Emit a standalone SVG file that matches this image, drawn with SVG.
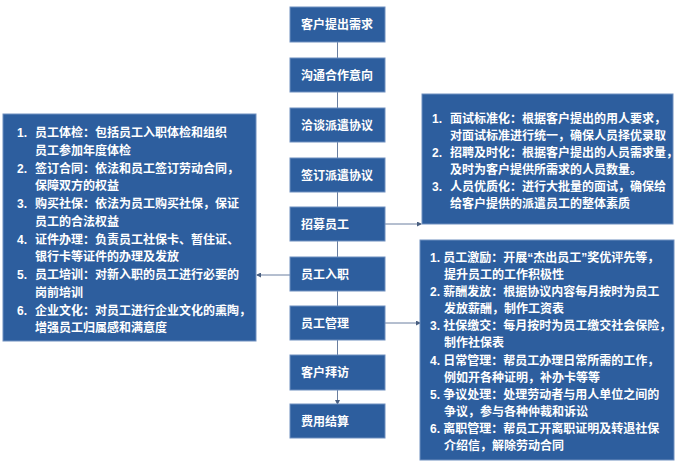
<svg xmlns="http://www.w3.org/2000/svg" width="677" height="474" viewBox="0 0 677 474">
<defs>
<style>
.b{fill:#2d5e9e;stroke:#6f8fbf;stroke-width:1}
.t{fill:#fff;font-family:"Liberation Sans","Noto Sans CJK SC",sans-serif;font-weight:bold;font-size:12px}
.c{stroke:#6a7fa0;stroke-width:1;fill:none;marker-end:url(#a)}
</style>
<marker id="a" markerWidth="5" markerHeight="5" refX="4" refY="2.5" orient="auto"><path d="M0,0L5,2.5L0,5z" fill="#4a5f80"/></marker>
</defs>
<rect width="677" height="474" fill="#fff"/>
<g id="connectors">
<path class="c" d="M337.5,42V58M337.5,92V108M337.5,142V158M337.5,192V207M337.5,241V257M337.5,291V306M337.5,340V355M337.5,390V404"/>
<path class="c" d="M385,224H421"/>
<path class="c" d="M290,275H257"/>
<path class="c" d="M385,323H420"/>
</g>
<g id="n1"><rect class="b" x="290" y="7" width="95" height="35"/><text class="t" x="301" y="29">客户提出需求</text></g>
<g id="n2"><rect class="b" x="290" y="58" width="95" height="34"/><text class="t" x="301" y="80">沟通合作意向</text></g>
<g id="n3"><rect class="b" x="290" y="108" width="95" height="34"/><text class="t" x="301" y="130">洽谈派遣协议</text></g>
<g id="n4"><rect class="b" x="290" y="158" width="95" height="34"/><text class="t" x="301" y="180">签订派遣协议</text></g>
<g id="n5"><rect class="b" x="290" y="207" width="95" height="34"/><text class="t" x="301" y="229">招募员工</text></g>
<g id="n6"><rect class="b" x="290" y="257" width="95" height="34"/><text class="t" x="301" y="279">员工入职</text></g>
<g id="n7"><rect class="b" x="290" y="306" width="95" height="34"/><text class="t" x="301" y="328">员工管理</text></g>
<g id="n8"><rect class="b" x="290" y="355" width="95" height="35"/><text class="t" x="301" y="377">客户拜访</text></g>
<g id="n9"><rect class="b" x="290" y="404" width="95" height="34"/><text class="t" x="301" y="426">费用结算</text></g>
<g id="left"><rect class="b" x="3" y="114" width="253" height="227"/>
<text class="t" x="17" y="137">1.</text><text class="t" x="35" y="137">员工体检：包括员工入职体检和组织</text>
<text class="t" x="35" y="155">员工参加年度体检</text>
<text class="t" x="17" y="173">2.</text><text class="t" x="35" y="173">签订合同：依法和员工签订劳动合同，</text>
<text class="t" x="35" y="190">保障双方的权益</text>
<text class="t" x="17" y="208">3.</text><text class="t" x="35" y="208">购买社保：依法为员工购买社保，保证</text>
<text class="t" x="35" y="226">员工的合法权益</text>
<text class="t" x="17" y="244">4.</text><text class="t" x="35" y="244">证件办理：负责员工社保卡、暂住证、</text>
<text class="t" x="35" y="261">银行卡等证件的办理及发放</text>
<text class="t" x="17" y="279">5.</text><text class="t" x="35" y="279">员工培训：对新入职的员工进行必要的</text>
<text class="t" x="35" y="297">岗前培训</text>
<text class="t" x="17" y="315">6.</text><text class="t" x="35" y="315">企业文化：对员工进行企业文化的熏陶，</text>
<text class="t" x="35" y="332">增强员工归属感和满意度</text>
</g>
<g id="rtop"><rect class="b" x="422" y="94" width="251" height="130"/>
<text class="t" x="432" y="123">1.</text><text class="t" x="450" y="123">面试标准化：根据客户提出的用人要求，</text>
<text class="t" x="450" y="140">对面试标准进行统一，确保人员择优录取</text>
<text class="t" x="432" y="157">2.</text><text class="t" x="450" y="157">招聘及时化：根据客户提出的人员需求量，</text>
<text class="t" x="450" y="174">及时为客户提供所需求的人员数量。</text>
<text class="t" x="432" y="191">3.</text><text class="t" x="450" y="191">人员优质化：进行大批量的面试，确保给</text>
<text class="t" x="450" y="208">给客户提供的派遣员工的整体素质</text>
</g>
<g id="rbot"><rect class="b" x="420" y="240" width="254" height="220"/>
<text class="t" x="430" y="262">1. 员工激励：开展“杰出员工”奖优评先等，</text>
<text class="t" x="444" y="279">提升员工的工作积极性</text>
<text class="t" x="430" y="296">2. 薪酬发放：根据协议内容每月按时为员工</text>
<text class="t" x="444" y="313">发放薪酬，制作工资表</text>
<text class="t" x="430" y="330">3. 社保缴交：每月按时为员工缴交社会保险，</text>
<text class="t" x="444" y="347">制作社保表</text>
<text class="t" x="430" y="365">4. 日常管理：帮员工办理日常所需的工作，</text>
<text class="t" x="444" y="382">例如开各种证明，补办卡等等</text>
<text class="t" x="430" y="399">5. 争议处理：处理劳动者与用人单位之间的</text>
<text class="t" x="444" y="416">争议，参与各种仲裁和诉讼</text>
<text class="t" x="430" y="433">6. 离职管理：帮员工开离职证明及转退社保</text>
<text class="t" x="444" y="450">介绍信，解除劳动合同</text>
</g>
</svg>
